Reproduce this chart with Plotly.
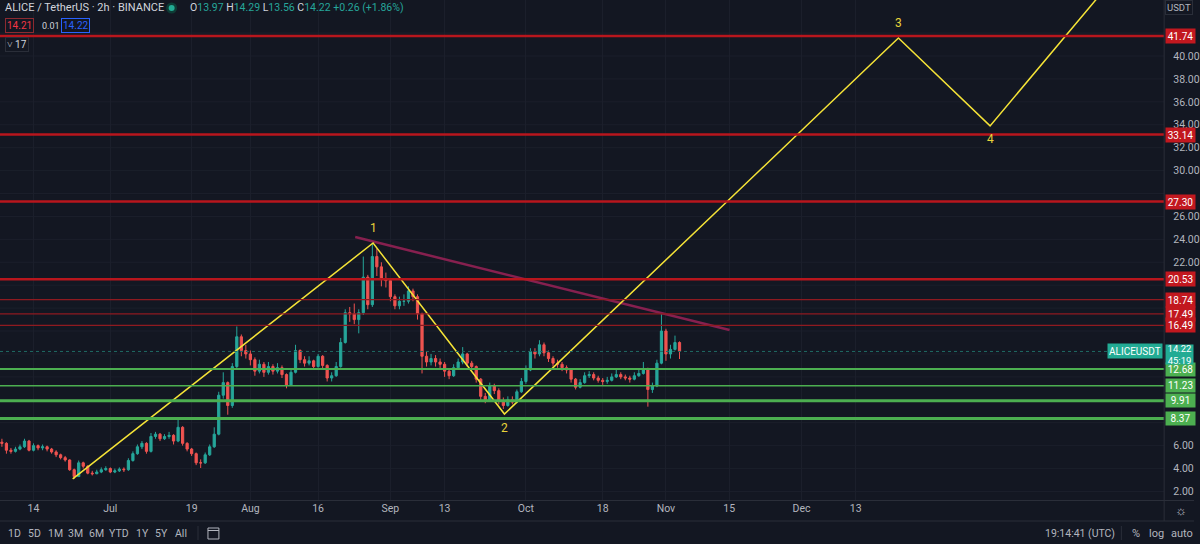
import pandas as pd
import plotly.graph_objects as go

# ---------------- data ----------------
start_day = "2021-06-07"
closes = [6.2, 5.6, 5.5, 5.7, 5.9, 6.4, 5.6, 6.0, 5.8, 5.9,
          5.7, 5.45, 5.2, 4.95, 4.75, 3.9, 3.3, 4.5, 4.2, 3.6,
          3.55, 3.7, 3.9, 4.0, 3.7, 3.8, 3.95, 3.9, 4.7, 5.3,
          5.9, 6.2, 5.5, 6.8, 7.0, 6.6, 6.8, 6.9, 6.4, 7.6,
          6.2, 5.7, 5.3, 4.5, 4.5, 5.2, 5.9, 7.0, 10.4, 11.5,
          9.5, 12.9, 15.5, 14.3, 14.0, 13.5, 12.5, 13.1, 12.4, 12.9,
          12.5, 12.8, 12.2, 11.3, 12.4, 14.3, 13.5, 13.2, 13.4, 12.9,
          13.8, 13.0, 11.9, 12.1, 12.9, 15.0, 17.6, 17.5, 17.0, 17.6,
          20.7, 18.3, 22.5, 21.6, 20.5, 20.4, 19.0, 18.2, 18.6, 18.6,
          19.5, 19.0, 17.5, 13.8, 13.3, 13.6, 13.3, 13.1, 12.5, 12.1,
          12.8, 13.3, 14.0, 13.2, 12.9, 11.8, 10.3, 10.0, 11.2, 10.8,
          9.9, 9.5, 10.0, 9.8, 10.7, 11.6, 12.6, 14.2, 14.0, 14.8,
          14.1, 13.6, 13.2, 13.1, 12.8, 12.6, 11.8, 11.1, 11.5, 12.1,
          12.2, 11.9, 11.7, 11.6, 11.7, 12.0, 12.2, 12.0, 11.9, 11.8,
          12.1, 12.3, 12.6, 10.9, 11.2, 13.2, 16.0, 14.0, 14.4, 15.0,
          14.22]
highs = [6.6, 6.3, 5.8, 5.9, 6.1, 6.6, 6.5, 6.2, 6.1, 6.1,
         6.0, 5.8, 5.6, 5.3, 5.1, 4.8, 4.0, 4.7, 4.6, 4.3,
         3.8, 3.9, 4.1, 4.2, 4.1, 4.0, 4.1, 4.1, 4.9, 5.5,
         6.1, 6.4, 6.3, 7.1, 7.2, 7.1, 7.0, 7.2, 7.0, 8.3,
         7.7, 6.3, 5.8, 5.4, 4.8, 5.4, 6.1, 7.6, 10.7, 12.4,
         11.6, 13.2, 16.4, 15.7, 14.8, 14.3, 13.7, 13.5, 13.3, 13.3,
         13.1, 13.2, 13.0, 12.3, 12.7, 14.8, 14.4, 13.8, 13.8, 13.5,
         14.0, 13.9, 13.1, 12.4, 13.3, 15.4, 17.9, 18.1, 18.4, 17.9,
         22.5, 20.9, 23.7, 23.2, 22.0, 21.1, 20.6, 19.2, 19.0, 19.2,
         19.9, 19.7, 19.2, 17.6, 14.2, 14.0, 13.9, 13.6, 13.3, 12.6,
         13.1, 13.6, 14.6, 14.1, 13.4, 13.0, 11.9, 10.6, 11.5, 11.4,
         11.0, 10.2, 10.3, 10.3, 10.9, 11.9, 13.0, 14.5, 14.5, 15.2,
         15.0, 14.3, 13.8, 13.5, 13.3, 13.0, 12.7, 11.9, 11.8, 12.4,
         12.5, 12.4, 12.1, 11.9, 12.0, 12.3, 12.6, 12.4, 12.2, 12.1,
         12.4, 12.6, 13.3, 12.8, 11.5, 13.5, 17.6, 16.2, 14.8, 15.6,
         15.1]
lows = [5.9, 5.3, 5.3, 5.4, 5.6, 5.8, 5.5, 5.5, 5.6, 5.6,
        5.5, 5.3, 5.0, 4.8, 4.6, 3.8, 3.1, 3.3, 4.0, 3.5,
        3.4, 3.5, 3.6, 3.8, 3.6, 3.6, 3.7, 3.7, 3.8, 4.6,
        5.2, 5.7, 5.3, 5.4, 6.6, 6.4, 6.5, 6.6, 6.1, 6.3,
        6.0, 5.5, 5.1, 4.3, 4.05, 4.4, 5.1, 5.8, 6.9, 10.1,
        8.7, 9.3, 12.7, 13.8, 13.6, 13.0, 12.1, 12.3, 12.0, 12.2,
        12.2, 12.3, 11.9, 11.0, 11.2, 12.3, 13.2, 12.9, 13.0, 12.6,
        12.8, 12.7, 11.6, 11.6, 12.0, 12.8, 14.9, 16.8, 16.6, 15.8,
        17.4, 17.9, 18.1, 20.8, 19.9, 19.8, 18.6, 17.9, 17.9, 18.2,
        18.4, 18.6, 17.0, 12.3, 12.9, 13.0, 12.9, 12.7, 12.0, 11.8,
        12.0, 12.6, 13.1, 12.9, 12.6, 11.5, 9.9, 9.7, 9.9, 10.5,
        9.6, 9.2, 9.4, 9.6, 9.7, 10.6, 11.4, 12.5, 13.6, 13.8,
        13.8, 13.3, 12.9, 12.8, 12.5, 12.3, 11.5, 10.9, 11.0, 11.4,
        11.9, 11.7, 11.5, 11.3, 11.4, 11.6, 11.9, 11.8, 11.7, 11.5,
        11.7, 12.0, 12.2, 9.4, 10.6, 11.1, 13.1, 13.4, 13.6, 14.3,
        13.56]
first_open = 6.3

red_levels = [41.74, 33.14, 27.30, 20.53, 18.74, 17.49, 16.49]
red_widths = [2.5, 2.5, 2.5, 2.5, 1.2, 1.2, 1.2]
green_levels = [12.68, 11.23, 9.91, 8.37]
green_widths = [2.0, 1.5, 3.0, 3.0]
last_price = 14.22

wave_dates = ["2021-06-22 16:00", "2021-08-28 04:00", "2021-09-26 06:00",
              "2021-12-22 11:00", "2022-01-11 18:00", "2022-02-06 12:00"]
wave_prices = [3.1, 23.68, 8.76, 41.57, 33.9, 46.0]
wave_labels = ["", "1", "2", "3", "4", ""]
wave_label_shift = [0, 15, -14, 15, -13, 0]

trend_dates = ["2021-08-24 05:00", "2021-11-15 02:00"]
trend_prices = [24.2, 16.09]

tick_dates = ["2021-06-14", "2021-07-01", "2021-07-19", "2021-08-01", "2021-08-16",
              "2021-09-01", "2021-09-13", "2021-10-01", "2021-10-18", "2021-11-01",
              "2021-11-15", "2021-12-01", "2021-12-13"]
tick_text = ["14", "Jul", "19", "Aug", "16", "Sep", "13", "Oct", "18", "Nov", "15", "Dec", "13"]
price_ticks = [2.0 * k for k in range(1, 22)]

# ---------------- figure ----------------
W, H = 1200, 544
BG = "#131722"
TXT = "#b2b5be"
FONT = "Roboto"
dates = pd.date_range(start_day, periods=len(closes), freq="D")
opens = [first_open] + closes[:-1]

PLOT_R = 1170
PLOT_B = 500
px_per_day = 4.54
ref = pd.Timestamp("2021-06-14")
x0 = ref - pd.Timedelta(days=33.7 / px_per_day)
x1 = ref + pd.Timedelta(days=(PLOT_R - 33.7) / px_per_day)
px_per_unit = 11.46
y_top = 40 + 56 / px_per_unit
y_bot = 40 - (PLOT_B - 56) / px_per_unit

# hide axis labels that sit under a price box (as the reference does)
box_levels = red_levels + green_levels + [last_price, last_price - 1.1]
shown_ticks = [t for t in price_ticks if all(abs(t - b) > 0.75 for b in box_levels)]

fig = go.Figure()
fig.add_trace(go.Candlestick(
    x=dates, open=opens, high=highs, low=lows, close=closes,
    increasing=dict(line=dict(color="#26a69a", width=1), fillcolor="#26a69a"),
    decreasing=dict(line=dict(color="#ef5350", width=1), fillcolor="#ef5350"),
    whiskerwidth=0, showlegend=False, hoverinfo="skip"))

fig.add_trace(go.Scatter(x=pd.to_datetime(trend_dates), y=trend_prices, mode="lines",
                         line=dict(color="#86204f", width=2.5), showlegend=False, hoverinfo="skip"))
fig.add_trace(go.Scatter(x=pd.to_datetime(wave_dates), y=wave_prices, mode="lines",
                         line=dict(color="#f5e337", width=1.5), showlegend=False, hoverinfo="skip"))

shapes = []
annotations = []

def py(ypx):
    return 1 - ypx / H

def px(xpx):
    return xpx / W

# horizontal grid lines at every price step (labels are partly hidden)
for t in price_ticks:
    shapes.append(dict(type="line", xref="paper", yref="y", x0=0, x1=PLOT_R / W, y0=t, y1=t,
                       layer="below", line=dict(color="#1b1f2b", width=1)))

for lv, wd in zip(red_levels, red_widths):
    col = "#b8161d" if wd > 2 else "#8f1a20"
    shapes.append(dict(type="line", xref="paper", yref="y", x0=0, x1=PLOT_R / W, y0=lv, y1=lv,
                       line=dict(color=col, width=wd)))
    annotations.append(dict(xref="paper", yref="y", x=PLOT_R / W + 0.0008, y=lv, xanchor="left",
                            yanchor="middle", text=f"{lv:.2f}", showarrow=False, bgcolor="#c2181f",
                            font=dict(color="white", size=10, family=FONT), width=27, height=12,
                            borderpad=1))
for lv, wd in zip(green_levels, green_widths):
    shapes.append(dict(type="line", xref="paper", yref="y", x0=0, x1=PLOT_R / W, y0=lv, y1=lv,
                       line=dict(color="#4caf50", width=wd)))
    annotations.append(dict(xref="paper", yref="y", x=PLOT_R / W + 0.0008, y=lv, xanchor="left",
                            yanchor="middle", text=f"{lv:.2f}", showarrow=False, bgcolor="#4caf50",
                            font=dict(color="white", size=10, family=FONT), width=27, height=11,
                            borderpad=1))

# last price dotted line and labels
shapes.append(dict(type="line", xref="paper", yref="y", x0=0, x1=PLOT_R / W, y0=last_price, y1=last_price,
                   line=dict(color="#1f6b63", width=1, dash="dot")))
annotations.append(dict(xref="paper", yref="y", x=PLOT_R / W - 0.001, y=last_price, xanchor="right",
                        yanchor="middle", text="ALICEUSDT", showarrow=False, bgcolor="#22ab94",
                        font=dict(color="white", size=10, family=FONT), height=12, borderpad=1))
annotations.append(dict(xref="paper", yref="y", x=PLOT_R / W + 0.0008, y=last_price, xanchor="left",
                        yanchor="top", yshift=7, text=f"{last_price:.2f}<br>45:19", showarrow=False,
                        bgcolor="#22ab94", font=dict(color="white", size=9.5, family=FONT),
                        width=27, height=19, borderpad=0))

# wave labels
for d, p, lab, sh in zip(wave_dates, wave_prices, wave_labels, wave_label_shift):
    if lab:
        annotations.append(dict(x=pd.Timestamp(d), y=p, xref="x", yref="y", text=lab, showarrow=False,
                                yshift=sh, font=dict(color="#e8d33a", size=12, family=FONT)))

# borders / separators
shapes.append(dict(type="line", xref="paper", yref="paper", x0=px(PLOT_R), x1=px(PLOT_R), y0=py(521), y1=1,
                   line=dict(color="#2a2e39", width=1)))
shapes.append(dict(type="line", xref="paper", yref="paper", x0=0, x1=1, y0=py(PLOT_B + 0.5), y1=py(PLOT_B + 0.5),
                   line=dict(color="#2a2e39", width=1)))
shapes.append(dict(type="line", xref="paper", yref="paper", x0=0, x1=1, y0=py(521), y1=py(521),
                   line=dict(color="#2a2e39", width=1)))
shapes.append(dict(type="line", xref="paper", yref="paper", x0=px(199), x1=px(199), y0=py(526), y1=py(540),
                   line=dict(color="#2a2e39", width=1)))
shapes.append(dict(type="line", xref="paper", yref="paper", x0=px(1127), x1=px(1127), y0=py(526), y1=py(540),
                   line=dict(color="#2a2e39", width=1)))
# calendar icon
shapes.append(dict(type="rect", xref="paper", yref="paper", x0=px(209), x1=px(220), y0=py(539), y1=py(528),
                   line=dict(color=TXT, width=1)))
shapes.append(dict(type="line", xref="paper", yref="paper", x0=px(209), x1=px(220), y0=py(530.5), y1=py(530.5),
                   line=dict(color=TXT, width=1)))
# header dot
shapes.append(dict(type="circle", xref="paper", yref="paper", x0=px(167), x1=px(178), y0=py(13.5), y1=py(2.5),
                   fillcolor="#0e3b35", line=dict(width=0)))
shapes.append(dict(type="circle", xref="paper", yref="paper", x0=px(169.5), x1=px(175.5), y0=py(11), y1=py(5),
                   fillcolor="#22ab94", line=dict(width=0)))

def txt(x, y, s, color=TXT, size=11, anchor="left", **kw):
    annotations.append(dict(xref="paper", yref="paper", x=px(x), y=py(y), text=s, showarrow=False,
                            xanchor=anchor, yanchor="middle", font=dict(color=color, size=size, family=FONT), **kw))

G = "#26a69a"
txt(3, 8, "ALICE / TetherUS · 2h · BINANCE", color="#d1d4dc", size=11)
txt(189, 8, f"O<span style='color:{G}'>13.97</span> H<span style='color:{G}'>14.29</span> "
            f"L<span style='color:{G}'>13.56</span> C<span style='color:{G}'>14.22</span> "
            f"<span style='color:{G}'>+0.26 (+1.86%)</span>", color="#d1d4dc", size=10.5)
txt(5, 25.5, "14.21", color="#f23645", size=10, bordercolor="#8c2a31", borderwidth=1, borderpad=1)
txt(40, 25.5, "0.01", color="#d1d4dc", size=9)
txt(61, 25.5, "14.22", color="#2962ff", size=10, bordercolor="#2962ff", borderwidth=1, borderpad=1)
txt(5, 44.5, "˅ 17", color="#d1d4dc", size=10, bordercolor="#2a2e39", borderwidth=1, borderpad=1)
txt(1185, 8, "USDT", color=TXT, size=9.5, anchor="center", bordercolor="#2a2e39", borderwidth=1,
    borderpad=1, bgcolor=BG)

for lab, xx in zip(["1D", "5D", "1M", "3M", "6M", "YTD", "1Y", "5Y", "All"],
                   [15, 35, 56, 76, 97, 120, 143, 162, 182]):
    txt(xx, 533, lab, size=10.5, anchor="center")
txt(1085, 533, "19:14:41 (UTC)", size=10.5, anchor="center")
txt(1142, 533, "%", size=11, anchor="center")
txt(1162, 533, "log", size=11, anchor="center")
txt(1188, 533, "auto", size=11, anchor="center")
txt(1187, 510, "☼", size=13, anchor="center")

fig.update_layout(
    width=W, height=H, margin=dict(l=0, r=0, t=0, b=0),
    paper_bgcolor=BG, plot_bgcolor=BG,
    shapes=shapes, annotations=annotations,
    xaxis=dict(type="date", range=[x0, x1], domain=[0, PLOT_R / W], rangeslider=dict(visible=False),
               tickvals=pd.to_datetime(tick_dates), ticktext=tick_text, showgrid=True, gridcolor="#1b1f2b",
               gridwidth=1, zeroline=False, showline=False, ticks="", tickfont=dict(color=TXT, size=10.5, family=FONT),
               fixedrange=True),
    yaxis=dict(side="right", range=[y_bot, y_top], domain=[1 - PLOT_B / H, 1],
               tickvals=shown_ticks, tickformat=".2f", showgrid=False, zeroline=False, showline=False,
               ticks="outside", ticklen=6, tickcolor=BG, tickfont=dict(color=TXT, size=10.5, family=FONT),
               fixedrange=True),
)

fig.write_html("out.html")
